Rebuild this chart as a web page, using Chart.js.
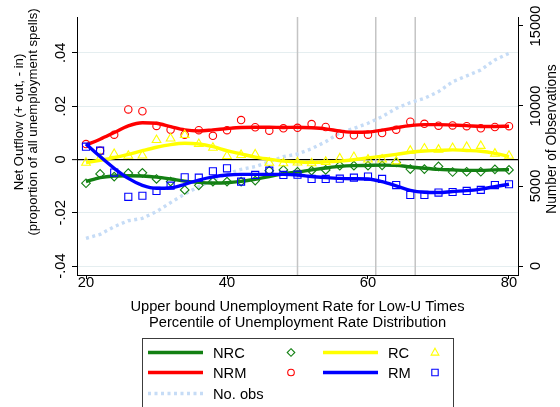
<!DOCTYPE html>
<html><head><meta charset="utf-8">
<script src="https://cdn.jsdelivr.net/npm/chart.js@4.4.1/dist/chart.umd.min.js"></script>
<style>html,body{margin:0;padding:0;background:#fff;}#wrap{position:relative;width:560px;height:407px;}</style>
</head><body><div id="wrap"><canvas id="c" width="560" height="407"></canvas></div>
<script>
// ---- data ----
const xValues = [20,22,24,26,28,30,32,34,36,38,40,42,44,46,48,50,52,54,56,58,60,62,64,66,68,70,72,74,76,78,80];
const nrcPoints = [-0.0089,-0.0054,-0.0064,-0.0051,-0.0050,-0.0073,-0.0083,-0.0114,-0.0097,-0.0083,-0.0083,-0.0083,-0.0079,-0.0042,-0.0039,-0.0046,-0.0042,-0.0039,-0.0023,-0.0023,-0.0023,-0.0022,-0.0011,-0.0036,-0.0036,-0.0026,-0.0047,-0.0046,-0.0046,-0.0037,-0.0039];
const nrcFit = [-0.0083,-0.0068,-0.0062,-0.0061,-0.0062,-0.0066,-0.0073,-0.0081,-0.0086,-0.0088,-0.0087,-0.0082,-0.0074,-0.0064,-0.0053,-0.0047,-0.0039,-0.0032,-0.0026,-0.0023,-0.0022,-0.0021,-0.0022,-0.0028,-0.0033,-0.0037,-0.0039,-0.0041,-0.0041,-0.0039,-0.0038];
const nrmPoints = [0.0058,0.0033,0.0093,0.0188,0.0181,0.0126,0.0112,0.0093,0.0110,0.0089,0.0110,0.0148,0.0121,0.0108,0.0117,0.0119,0.0133,0.0122,0.0092,0.0091,0.0093,0.0099,0.0112,0.0142,0.0134,0.0127,0.0128,0.0125,0.0117,0.0122,0.0125];
const nrmFit = [0.0054,0.0076,0.0101,0.0126,0.0138,0.0136,0.0123,0.0111,0.0107,0.0111,0.0116,0.0120,0.0121,0.0121,0.0120,0.0121,0.0119,0.0115,0.0107,0.0102,0.0103,0.0110,0.0119,0.0127,0.0131,0.0131,0.0129,0.0127,0.0124,0.0124,0.0125];
const rcPoints = [-0.0012,0.0005,0.0021,0.0014,0.0015,0.0073,0.0079,0.0092,0.0058,0.0044,0.0013,0.0017,0.0019,-0.0012,-0.0014,-0.0011,-0.0014,-0.0009,0.0004,0.0009,0.0000,0.0000,-0.0007,0.0033,0.0041,0.0037,0.0043,0.0047,0.0051,0.0022,0.0014];
const rcFit = [-0.0012,-0.0003,0.0007,0.0019,0.0033,0.0046,0.0056,0.0061,0.0058,0.0048,0.0033,0.0021,0.0009,0.0001,-0.0006,-0.0009,-0.0011,-0.0009,-0.0006,-0.0001,0.0006,0.0012,0.0019,0.0027,0.0032,0.0034,0.0036,0.0034,0.0031,0.0023,0.0011];
const rmPoints = [0.0048,0.0033,-0.0049,-0.0140,-0.0136,-0.0118,-0.0098,-0.0067,-0.0068,-0.0044,-0.0033,-0.0083,-0.0058,-0.0042,-0.0058,-0.0057,-0.0073,-0.0073,-0.0072,-0.0068,-0.0064,-0.0073,-0.0096,-0.0133,-0.0133,-0.0124,-0.0122,-0.0118,-0.0114,-0.0096,-0.0093];
const rmFit = [0.0058,0.0011,-0.0033,-0.0071,-0.0097,-0.0108,-0.0106,-0.0093,-0.0077,-0.0065,-0.0058,-0.0056,-0.0056,-0.0056,-0.0056,-0.0058,-0.0064,-0.0068,-0.0071,-0.0072,-0.0073,-0.0083,-0.0099,-0.0116,-0.0123,-0.0124,-0.0120,-0.0117,-0.0111,-0.0102,-0.0093];
const numObs = [1730,1980,2460,2830,2980,3400,3960,4500,4960,5380,5750,6040,6210,6520,6830,7000,7330,7770,8330,8600,8920,9330,9850,10210,10480,10900,11520,11880,12250,12880,13290];
const xTicks = [20,40,60,80];
const yTicks = [-0.04,-0.02,0,0.02,0.04];
const yTickLabels = ['-.04','-.02','0','.02','.04'];
const y2Ticks = [0,5000,10000,15000];
const vLines = [50,61.1,66.7];
const xTitle = ['Upper bound Unemployment Rate for Low-U Times','Percentile of Unemployment Rate Distribution'];
const yTitle = ['Net Outflow (+ out, - in)','(proportion of all unemployment spells)'];
const y2Title = 'Number of Observations';
const legendItems = [
  {label:'NRC', color:'#138013', style:'line'}, {label:'', color:'#138013', style:'rectRot'},
  {label:'RC', color:'#ffff00', style:'line'}, {label:'', color:'#ffff00', style:'triangle'},
  {label:'NRM', color:'#ff0000', style:'line'}, {label:'', color:'#ff0000', style:'circle'},
  {label:'RM', color:'#0000ff', style:'line'}, {label:'', color:'#0000ff', style:'rect'},
  {label:'No. obs', color:'#c6dcf6', style:'dash'}
];

const FONT = '"Liberation Sans", Arial, sans-serif';
const FS = 14.7;
const FS_Y = 13.2;
const C = {green:'#138013', red:'#ff0000', yellow:'#ffff00', blue:'#0000ff', obs:'#c6dcf6'};
const pts = arr => xValues.map((x,i)=>({x, y:arr[i]}));

function fitDs(arr, color, order){
  return {type:'line', data:pts(arr), borderColor:color, borderWidth:3.4, pointRadius:0, fill:false,
          cubicInterpolationMode:'monotone', yAxisID:'y', order};
}
function markDs(arr, color, style, r, order){
  return {type:'line', data:pts(arr), showLine:false, pointStyle:style, pointRadius:r,
          pointBorderColor:color, pointBackgroundColor:'rgba(0,0,0,0)', pointBorderWidth:1.1, yAxisID:'y', order};
}

const vlinePlugin = {
  id:'vlines',
  beforeDatasetsDraw(chart){
    const {ctx, chartArea:a, scales:{x}} = chart;
    ctx.save(); ctx.strokeStyle='#c4c4c4'; ctx.lineWidth=1.5;
    vLines.forEach(v=>{ const px = x.getPixelForValue(v); ctx.beginPath(); ctx.moveTo(px,a.top); ctx.lineTo(px,a.bottom); ctx.stroke(); });
    ctx.restore();
  }
};

function marker(ctx, style, x, y, r, color){
  ctx.save(); ctx.strokeStyle=color; ctx.lineWidth=1.1; ctx.beginPath();
  if(style==='circle'){ ctx.arc(x,y,r,0,Math.PI*2); }
  else if(style==='rect'){ ctx.rect(x-r,y-r,2*r,2*r); }
  else if(style==='rectRot'){ ctx.moveTo(x,y-r); ctx.lineTo(x+r,y); ctx.lineTo(x,y+r); ctx.lineTo(x-r,y); ctx.closePath(); }
  else if(style==='triangle'){ ctx.moveTo(x,y-r); ctx.lineTo(x+r*0.9,y+r*0.6); ctx.lineTo(x-r*0.9,y+r*0.6); ctx.closePath(); }
  ctx.stroke(); ctx.restore();
}

const textPlugin = {
  id:'texts',
  afterDraw(chart){
    const {ctx, scales:{x,y,y2}, chartArea:a} = chart;
    ctx.save(); ctx.fillStyle='#000'; ctx.font = FS+'px '+FONT; ctx.textBaseline='alphabetic';
    ctx.textAlign='center';
    xTicks.forEach(v=> ctx.fillText(String(v), x.getPixelForValue(v), 287));
    const cx = (a.left+a.right)/2;
    ctx.fillText(xTitle[0], cx, 311);
    ctx.fillText(xTitle[1], cx, 327);
    yTicks.forEach((v,i)=>{ ctx.save(); ctx.translate(64.5, y.getPixelForValue(v)); ctx.rotate(-Math.PI/2); ctx.fillText(yTickLabels[i],0,0); ctx.restore(); });
    y2Ticks.forEach(v=>{ ctx.save(); ctx.translate(540, y2.getPixelForValue(v)); ctx.rotate(-Math.PI/2); ctx.fillText(String(v),0,0); ctx.restore(); });
    ctx.font = FS_Y+'px '+FONT;
    ctx.save(); ctx.translate(23, 122); ctx.rotate(-Math.PI/2); ctx.fillText(yTitle[0],0,0); ctx.restore();
    ctx.save(); ctx.translate(36.5, 122); ctx.rotate(-Math.PI/2); ctx.fillText(yTitle[1],0,0); ctx.restore();
    ctx.font = '13.8px '+FONT;
    ctx.save(); ctx.translate(556, 139); ctx.rotate(-Math.PI/2); ctx.fillText(y2Title,0,0); ctx.restore();
    ctx.font = FS+'px '+FONT;
    ctx.strokeStyle='#3c3c3c'; ctx.lineWidth=1; ctx.strokeRect(142.5,338.5,311,80);
    const rows=[352.5,372.5,393.5];
    const colLine=[[148,203],[323,378]], colText=[213,388], colMark=[291,435];
    ctx.textAlign='left'; ctx.textBaseline='middle';
    const place = [[0,0,'l'],[0,0,'m'],[0,1,'l'],[0,1,'m'],[1,0,'l'],[1,0,'m'],[1,1,'l'],[1,1,'m'],[2,0,'l']];
    legendItems.forEach((it,i)=>{
      const [r,c,k] = place[i]; const yy = rows[r];
      if(k==='l'){
        ctx.save(); ctx.strokeStyle=it.color; ctx.lineWidth=3.4;
        if(it.style==='dash'){ ctx.setLineDash([3,3.5]); }
        ctx.beginPath(); ctx.moveTo(colLine[c][0],yy); ctx.lineTo(colLine[c][1],yy); ctx.stroke(); ctx.restore();
        ctx.fillText(it.label, colText[c], yy+1);
      } else {
        const rr = {circle:3.3, rect:3.2, rectRot:3.8, triangle:4.3}[it.style];
        marker(ctx, it.style, colMark[c], yy, rr, it.color);
      }
    });
    ctx.restore();
  }
};

new Chart(document.getElementById('c'), {
  type:'line',
  data:{datasets:[
    fitDs(rmFit, C.blue, 1), markDs(rmPoints, C.blue, 'rect', 5, 2),
    fitDs(rcFit, C.yellow, 3), markDs(rcPoints, C.yellow, 'triangle', 5, 4),
    fitDs(nrmFit, C.red, 5), markDs(nrmPoints, C.red, 'circle', 3.7, 6),
    fitDs(nrcFit, C.green, 7), markDs(nrcPoints, C.green, 'rectRot', 4.3, 8),
    {type:'line', data:pts(numObs), borderColor:C.obs, borderWidth:3.4, borderDash:[3,3.5], pointRadius:0,
     fill:false, tension:0, yAxisID:'y2', order:9}
  ]},
  options:{
    responsive:false, animation:false, devicePixelRatio:1,
    layout:{padding:{top:17,left:0,right:0,bottom:0}},
    plugins:{legend:{display:false}, tooltip:{enabled:false}},
    scales:{
      x:{type:'linear', position:'bottom', min:18.723, max:81.277,
         afterBuildTicks:s=>{ s.ticks = xTicks.map(v=>({value:v})); },
         afterFit:s=>{ s.height = 132; },
         ticks:{display:false},
         grid:{drawOnChartArea:false, drawTicks:true, tickLength:4, tickColor:'#000', color:'#000'},
         border:{display:true, color:'#000', width:1}},
      y:{type:'linear', position:'left', min:-0.04334, max:0.05347,
         afterBuildTicks:s=>{ s.ticks = yTicks.map(v=>({value:v})); },
         afterFit:s=>{ s.width = 77; },
         ticks:{display:false},
         grid:{color:c=> (c.tick && c.tick.value===0) ? '#000' : '#e5eef0',
               lineWidth:c=> (c.tick && c.tick.value===0) ? 1.3 : 1,
               drawTicks:true, tickLength:5, tickColor:'#000', tickWidth:1},
         border:{display:true, color:'#000', width:1}},
      y2:{type:'linear', position:'right', min:-562.5, max:15562.5,
         afterBuildTicks:s=>{ s.ticks = y2Ticks.map(v=>({value:v})); },
         afterFit:s=>{ s.width = 42; },
         ticks:{display:false},
         grid:{drawOnChartArea:false, drawTicks:true, tickLength:5, tickColor:'#000', color:'#000'},
         border:{display:true, color:'#000', width:1}}
    }
  },
  plugins:[vlinePlugin, textPlugin]
});
</script></body></html>
